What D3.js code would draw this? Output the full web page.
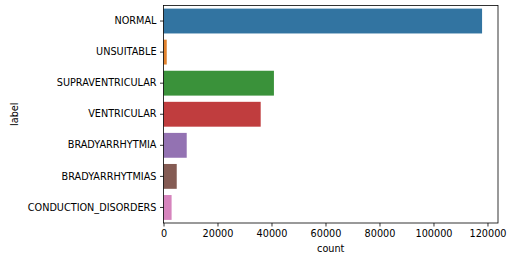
<!DOCTYPE html>
<html>
<head>
<meta charset="utf-8">
<script src="https://cdn.jsdelivr.net/npm/d3@7"></script>
<style>
  body { margin: 0; background: #fff; }
  svg { font-family: "DejaVu Sans", sans-serif; }
</style>
</head>
<body>
<div id="container"></div>
<script>
var labels = ['NORMAL', 'UNSUITABLE', 'SUPRAVENTRICULAR', 'VENTRICULAR',
              'BRADYARRHYTMIA', 'BRADYARRHYTMIAS', 'CONDUCTION_DISORDERS'];
var counts = [118000, 1200, 40900, 36000, 8600, 4900, 3000];
var colors = ['#3274a1', '#e1812c', '#3a923a', '#c03d3e', '#9372b2', '#845b53', '#d684bd'];
var xTicks = [0, 20000, 40000, 60000, 80000, 100000, 120000];

var W = 516, H = 260;
var m = { left: 163.5, right: 18, top: 5.5, bottom: 37 };

var svg = d3.select('#container').append('svg')
  .attr('width', W).attr('height', H);

var x = d3.scaleLinear()
  .domain([0, d3.max(counts) * 1.05])
  .range([m.left, W - m.right]);

var y = d3.scaleBand()
  .domain(labels)
  .range([m.top, H - m.bottom])
  .paddingInner(0.2).paddingOuter(0.1);

var data = labels.map(function(d, i) { return { label: d, count: counts[i], color: colors[i] }; });

svg.selectAll('rect.bar').data(data).enter()
  .append('rect')
  .attr('class', 'bar')
  .attr('x', x(0))
  .attr('y', function(d) { return y(d.label); })
  .attr('width', function(d) { return x(d.count) - x(0); })
  .attr('height', y.bandwidth())
  .attr('fill', function(d) { return d.color; });

var xAxis = svg.append('g')
  .attr('transform', 'translate(0,' + (H - m.bottom) + ')')
  .call(d3.axisBottom(x).tickValues(xTicks).tickFormat(d3.format('d')).tickSizeOuter(0).tickSize(3.5).tickPadding(3.5));

var yAxis = svg.append('g')
  .attr('transform', 'translate(' + m.left + ',0)')
  .call(d3.axisLeft(y).tickSizeOuter(0).tickSize(3.5).tickPadding(3.5));

[xAxis, yAxis].forEach(function(g) {
  g.select('.domain').remove();
  g.selectAll('.tick line').attr('stroke', '#000').attr('stroke-width', 0.8);
  g.selectAll('.tick text').attr('fill', '#000').style('font-size', '9.7px')
    .style('font-family', '"DejaVu Sans", sans-serif');
});

// frame
svg.append('rect')
  .attr('x', m.left).attr('y', m.top)
  .attr('width', W - m.right - m.left).attr('height', H - m.bottom - m.top)
  .attr('fill', 'none').attr('stroke', '#000').attr('stroke-width', 0.8);

svg.append('text')
  .attr('x', (m.left + W - m.right) / 2).attr('y', 252)
  .attr('text-anchor', 'middle').style('font-size', '9.7px')
  .text('count');

svg.append('text')
  .attr('transform', 'translate(18,' + ((m.top + H - m.bottom) / 2) + ') rotate(-90)')
  .attr('text-anchor', 'middle').style('font-size', '9.7px')
  .text('label');
</script>
</body>
</html>
